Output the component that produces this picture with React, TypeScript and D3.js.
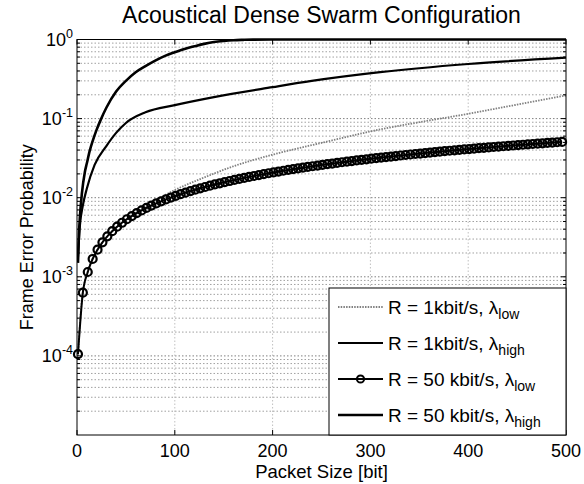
import React from 'react';
import * as d3 from 'd3';

// ---- data ----
// R = 50 kbit/s, lambda_high (upper thick curve)
const highFastX = [1, 2, 3, 5, 8, 10, 13, 16, 20, 24, 30, 40, 50, 60, 70, 80, 90, 100, 110, 120, 130, 140, 150, 160, 170, 180, 200, 250, 300, 400, 500];
const highFastY = [0.0015, 0.0035, 0.0058, 0.0113, 0.021, 0.027, 0.039, 0.052, 0.072, 0.095, 0.137, 0.22, 0.30, 0.385, 0.46, 0.54, 0.62, 0.69, 0.76, 0.82, 0.88, 0.93, 0.96, 0.98, 0.99, 0.997, 1, 1, 1, 1, 1];

// R = 1 kbit/s, lambda_high (thin solid curve)
const highSlowX = [1, 3, 6, 10, 18, 30, 40, 50, 70, 100, 140, 200, 240, 310, 400, 500];
const highSlowY = [0.0018, 0.0045, 0.008, 0.013, 0.026, 0.045, 0.066, 0.088, 0.12, 0.148, 0.187, 0.25, 0.30, 0.387, 0.49, 0.59];

// R = 1 kbit/s, lambda_low (dotted grey curve)
const lowSlowX = [1, 5, 10, 20, 30, 40, 50, 60, 70, 85, 100, 125, 163, 200, 252, 310, 350, 400, 450, 500];
const lowSlowY = [0.0001, 0.00052, 0.00105, 0.0021, 0.00315, 0.0042, 0.0053, 0.0064, 0.0076, 0.01, 0.0125, 0.017, 0.0257, 0.035, 0.05, 0.073, 0.09, 0.115, 0.15, 0.196];

// R = 50 kbit/s, lambda_low (line with circle markers), per mille
const lowFastX = [
  1, 6, 11, 16, 21, 26, 31, 36, 41, 46, 51, 56, 61, 66, 71, 76, 81, 86, 91, 96,
  101, 106, 111, 116, 121, 126, 131, 136, 141, 146, 151, 156, 161, 166, 171, 176, 181, 186, 191, 196,
  201, 206, 211, 216, 221, 226, 231, 236, 241, 246, 251, 256, 261, 266, 271, 276, 281, 286, 291, 296,
  301, 306, 311, 316, 321, 326, 331, 336, 341, 346, 351, 356, 361, 366, 371, 376, 381, 386, 391, 396,
  401, 406, 411, 416, 421, 426, 431, 436, 441, 446, 451, 456, 461, 466, 471, 476, 481, 486, 491, 496,
];
const lowFastPerMille = [
  0.105, 0.63, 1.15, 1.68, 2.2, 2.73, 3.25, 3.77, 4.3, 4.82, 5.34, 5.86, 6.39, 6.91, 7.43, 7.95, 8.47, 8.99, 9.51, 10.03,
  10.55, 11.07, 11.59, 12.11, 12.62, 13.14, 13.66, 14.18, 14.7, 15.21, 15.73, 16.25, 16.76, 17.28, 17.79, 18.31, 18.82, 19.34, 19.85, 20.37,
  20.88, 21.4, 21.91, 22.42, 22.94, 23.45, 23.96, 24.47, 24.99, 25.5, 26.01, 26.52, 27.03, 27.54, 28.05, 28.56, 29.07, 29.58, 30.09, 30.6,
  31.11, 31.61, 32.12, 32.63, 33.14, 33.64, 34.15, 34.66, 35.16, 35.67, 36.18, 36.68, 37.19, 37.69, 38.2, 38.7, 39.21, 39.71, 40.21, 40.72,
  41.22, 41.72, 42.22, 42.73, 43.23, 43.73, 44.23, 44.73, 45.23, 45.73, 46.23, 46.73, 47.23, 47.73, 48.23, 48.73, 49.23, 49.73, 50.23, 50.72,
];

const xTicks = [0, 100, 200, 300, 400, 500];
const yExponents = [0, -1, -2, -3, -4];
const minorMantissas = [2, 3, 4, 5, 6, 7, 8, 9];
const minorDecades = [-5, -4, -3, -2, -1];

const legendLabels = [
  { main: 'R = 1kbit/s, λ', sub: 'low' },
  { main: 'R = 1kbit/s, λ', sub: 'high' },
  { main: 'R = 50 kbit/s, λ', sub: 'low' },
  { main: 'R = 50 kbit/s, λ', sub: 'high' },
];

const FONT = '"Liberation Sans", Arial, sans-serif';
const W = 584;
const H = 484;
const L = 77;
const R = 566;
const T = 39.5;
const B = 435;

const App: React.FC = () => {
  const x = d3.scaleLinear().domain([0, 500]).range([L, R]);
  const y = d3.scaleLog().domain([1e-5, 1]).range([B, T]);

  const line = d3
    .line<[number, number]>()
    .x((d) => x(d[0]))
    .y((d) => y(d[1]))
    .curve(d3.curveMonotoneX);

  const zip = (xs: number[], ys: number[]) => xs.map((v, i) => [v, ys[i]] as [number, number]);
  const highFast = zip(highFastX, highFastY);
  const highSlow = zip(highSlowX, highSlowY);
  const lowSlow = zip(lowSlowX, lowSlowY);
  const lowFast = zip(lowFastX, lowFastPerMille.map((v) => v / 1000));

  const minorVals: number[] = [];
  minorDecades.forEach((e) => minorMantissas.forEach((m) => minorVals.push(m * Math.pow(10, e))));
  const majorVals = [1e-4, 1e-3, 1e-2, 1e-1];

  const legX0 = 329;
  const legY0 = 288;
  const rowY = [307, 343, 379, 415];

  return (
    <svg width={W} height={H} style={{ position: 'absolute', left: 0, top: 0, background: '#fff' }} fontFamily={FONT}>
      <rect x={0} y={0} width={W} height={H} fill="#fff" />
      <defs>
        <clipPath id="plot">
          <rect x={L} y={T - 2} width={R - L} height={B - T + 2} />
        </clipPath>
      </defs>

      {/* grid */}
      {minorVals.map((v, i) => (
        <line key={'mg' + i} x1={L} x2={R} y1={y(v)} y2={y(v)} stroke="#a0a0a0" strokeWidth={1} strokeDasharray="1.5,2" />
      ))}
      {majorVals.map((v, i) => (
        <line key={'Mg' + i} x1={L} x2={R} y1={y(v)} y2={y(v)} stroke="#808080" strokeWidth={1} strokeDasharray="1.5,2" />
      ))}
      {xTicks.slice(1, -1).map((t) => (
        <line key={'vg' + t} x1={x(t)} x2={x(t)} y1={T} y2={B} stroke="#c0c0c0" strokeWidth={1} strokeDasharray="1.5,2" />
      ))}

      {/* curves */}
      <g clipPath="url(#plot)" fill="none">
        <path d={line(lowSlow) || ''} stroke="#808080" strokeWidth={1.8} strokeDasharray="1.5,1.2" />
        <path d={line(lowFast) || ''} stroke="#000" strokeWidth={2} />
        <path d={line(highSlow) || ''} stroke="#000" strokeWidth={2.2} />
        <path d={line(highFast) || ''} stroke="#000" strokeWidth={2.6} />
      </g>
      <g fill="none" stroke="#000" strokeWidth={2.2}>
        {lowFast.map((d, i) => (
          <circle key={'m' + i} cx={x(d[0])} cy={y(d[1])} r={4} />
        ))}
      </g>

      {/* axes box */}
      <rect x={L} y={T} width={R - L} height={B - T} fill="none" stroke="#000" strokeWidth={1} />

      {/* x ticks */}
      {xTicks.map((t) => (
        <g key={'xt' + t}>
          <line x1={x(t)} x2={x(t)} y1={B} y2={B - 5} stroke="#000" />
          <line x1={x(t)} x2={x(t)} y1={T} y2={T + 5} stroke="#000" />
          <text x={x(t)} y={457} textAnchor="middle" fontSize={18}>
            {t}
          </text>
        </g>
      ))}

      {/* y ticks */}
      {yExponents.map((e) => (
        <g key={'yt' + e}>
          <line x1={L} x2={L + 5} y1={y(Math.pow(10, e))} y2={y(Math.pow(10, e))} stroke="#000" />
          <line x1={R} x2={R - 5} y1={y(Math.pow(10, e))} y2={y(Math.pow(10, e))} stroke="#000" />
          <text x={73} y={y(Math.pow(10, e)) + 6.5} textAnchor="end" fontSize={18}>
            10
            <tspan fontSize={12.5} dy={-8.5}>
              {e}
            </tspan>
          </text>
        </g>
      ))}
      {minorVals.map((v, i) => (
        <g key={'ym' + i}>
          <line x1={L} x2={L + 3} y1={y(v)} y2={y(v)} stroke="#000" />
          <line x1={R} x2={R - 3} y1={y(v)} y2={y(v)} stroke="#000" />
        </g>
      ))}

      {/* labels */}
      <text x={(L + R) / 2} y={23} textAnchor="middle" fontSize={23}>
        Acoustical Dense Swarm Configuration
      </text>
      <text x={(L + R) / 2} y={478} textAnchor="middle" fontSize={18.5}>
        Packet Size [bit]
      </text>
      <text transform={`translate(33, ${(T + B) / 2}) rotate(-90)`} textAnchor="middle" fontSize={18}>
        Frame Error Probability
      </text>

      {/* legend */}
      <rect x={legX0} y={legY0} width={R - legX0} height={B - legY0} fill="#fff" stroke="#000" strokeWidth={1} />
      {legendLabels.map((lab, i) => (
        <g key={'lg' + i}>
          <line
            x1={338}
            x2={383}
            y1={rowY[i]}
            y2={rowY[i]}
            stroke={i === 0 ? '#808080' : '#000'}
            strokeWidth={i === 0 ? 1.8 : i === 3 ? 2.6 : 2}
            strokeDasharray={i === 0 ? '1.5,1.2' : undefined}
          />
          {i === 2 && <circle cx={360.5} cy={rowY[i]} r={3.6} fill="none" stroke="#000" strokeWidth={2} />}
          <text x={388} y={rowY[i] + 6.5} fontSize={19}>
            {lab.main}
            <tspan fontSize={14} dy={5}>
              {lab.sub}
            </tspan>
          </text>
        </g>
      ))}
    </svg>
  );
};

export default App;
